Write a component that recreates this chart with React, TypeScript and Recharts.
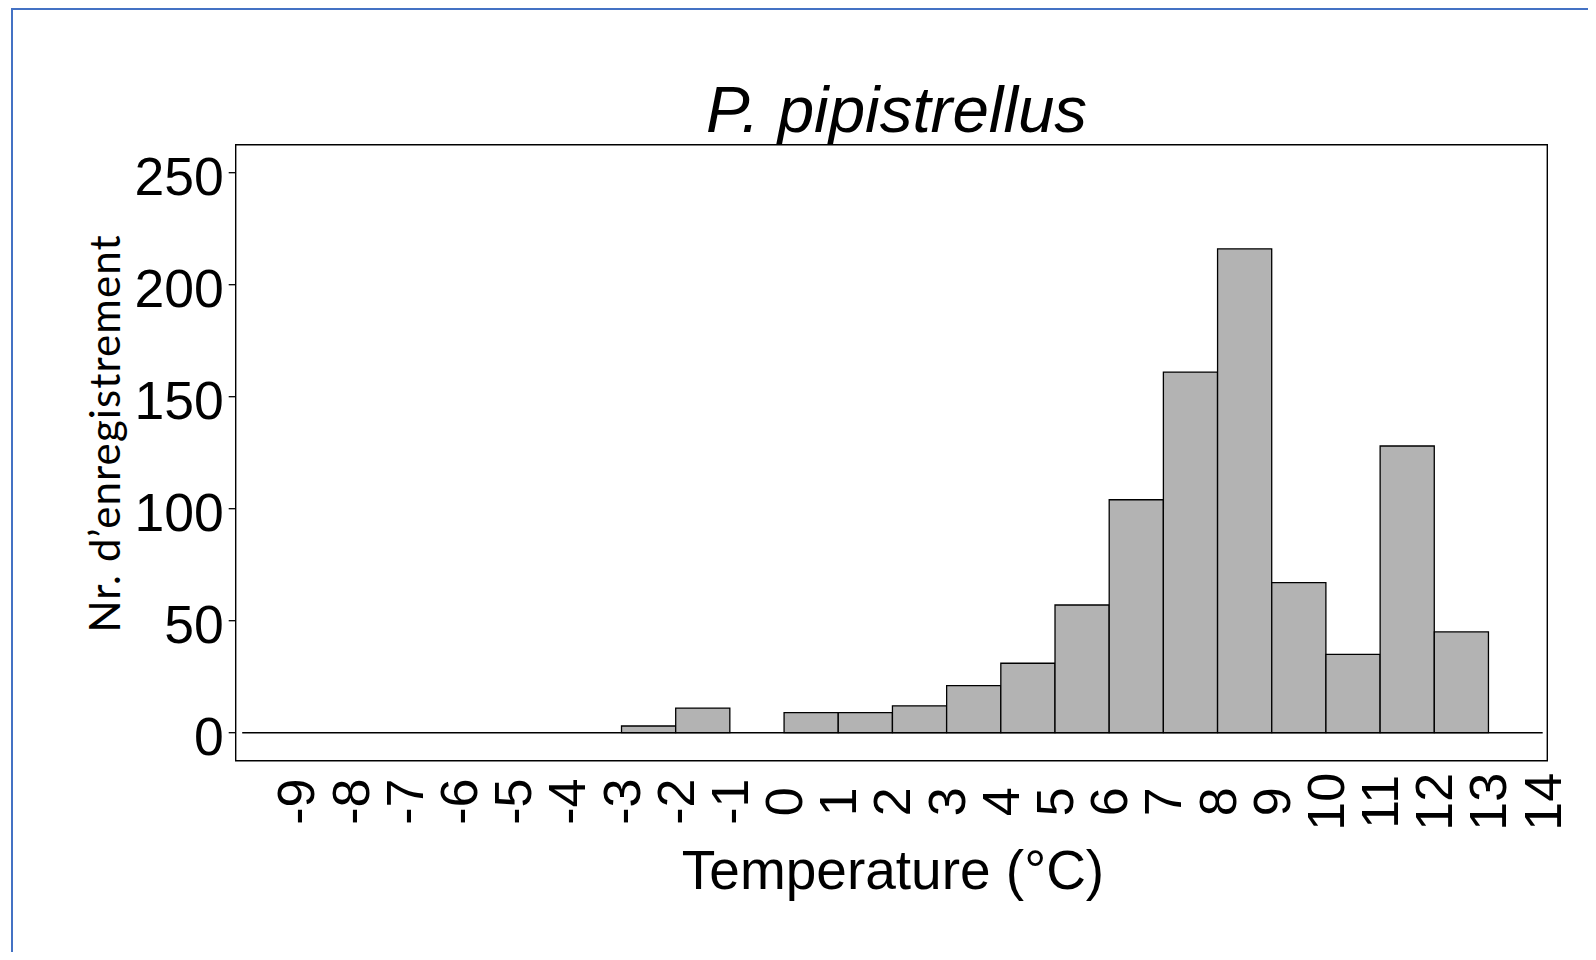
import { BarChart, Bar, XAxis, YAxis, ReferenceLine, ReferenceArea } from 'recharts';

// histogram bins: lower edge (°C) and count
const BIN_START = [-10, -9, -8, -7, -6, -5, -4, -3, -2, -1, 0, 1, 2, 3, 4, 5, 6, 7, 8, 9, 10, 11, 12, 13];
const COUNTS = [0, 0, 0, 0, 0, 0, 0, 3, 11, 0, 9, 9, 12, 21, 31, 57, 104, 161, 216, 67, 35, 128, 45, 0];
const X_TICKS = [-9, -8, -7, -6, -5, -4, -3, -2, -1, 0, 1, 2, 3, 4, 5, 6, 7, 8, 9, 10, 11, 12, 13, 14];
const Y_TICKS = [0, 50, 100, 150, 200, 250];

const X_DOMAIN: [number, number] = [-10.12, 14.085];
const Y_DOMAIN: [number, number] = [-12.5, 262.5];

const data = BIN_START.map((s, i) => ({ mid: s + 0.5, count: COUNTS[i] }));

const W = 1596;
const H = 960;
const PLOT_LEFT = 235.7;
const PLOT_RIGHT = 1547.3;
const PLOT_TOP = 144.7;
const PLOT_BOTTOM = 760.7;
// one bin wide, a hair under the band so recharts doesn't shrink it
const BAR_PX = (PLOT_RIGHT - PLOT_LEFT) / (X_DOMAIN[1] - X_DOMAIN[0]) - 0.05;

const ARIAL = '"Liberation Sans", Arial, sans-serif';

function XTick(props: any) {
  const { x, y, payload } = props;
  const cy = y + 41;
  return (
    <text
      x={x}
      y={cy}
      transform={`rotate(-90, ${x}, ${cy})`}
      textAnchor="middle"
      dominantBaseline="central"
      fontFamily={ARIAL}
      fontSize={52}
      fill="#000"
    >
      {payload.value}
    </text>
  );
}

function YTick(props: any) {
  const { x, y, payload } = props;
  return (
    <text x={x} y={y} dy={4} textAnchor="end" dominantBaseline="central" fontFamily={ARIAL} fontSize={53.5} fill="#000">
      {payload.value}
    </text>
  );
}

export default function App() {
  return (
    <div style={{ position: 'relative', width: W, height: H, margin: -8, overflow: 'hidden', background: '#fff' }}>
      <div
        style={{
          position: 'absolute',
          left: 11,
          top: 8,
          width: W + 40,
          height: H + 40,
          border: '2px solid #4472C4',
          boxSizing: 'border-box',
        }}
      />
      <div style={{ position: 'absolute', left: 0, top: 0 }}>
        <BarChart
          width={W}
          height={H}
          data={data}
          margin={{ top: PLOT_TOP, right: W - PLOT_RIGHT, bottom: 0, left: 0 }}
          barCategoryGap={0}
          barGap={0}
        >
          <XAxis
            type="number"
            dataKey="mid"
            domain={X_DOMAIN}
            ticks={X_TICKS}
            interval={0}
            allowDataOverflow
            axisLine={false}
            tickLine={false}
            tickSize={0}
            tickMargin={0}
            height={H - PLOT_BOTTOM}
            tick={<XTick />}
          />
          <YAxis
            type="number"
            domain={Y_DOMAIN}
            ticks={Y_TICKS}
            interval={0}
            allowDataOverflow
            axisLine={false}
            tickLine={{ stroke: '#000', strokeWidth: 1.3 }}
            tickSize={7}
            tickMargin={5}
            width={PLOT_LEFT}
            tick={<YTick />}
          />
          <ReferenceArea
            x1={X_DOMAIN[0]}
            x2={X_DOMAIN[1]}
            y1={Y_DOMAIN[0]}
            y2={Y_DOMAIN[1]}
            fill="none"
            stroke="#000"
            strokeWidth={1.4}
            ifOverflow="visible"
          />
          <ReferenceLine
            segment={[
              { x: BIN_START[0], y: 0 },
              { x: BIN_START[BIN_START.length - 1] + 1, y: 0 },
            ]}
            stroke="#000"
            strokeWidth={1.6}
            ifOverflow="visible"
          />
          <Bar dataKey="count" fill="#B3B3B3" stroke="#000" strokeWidth={1.3} barSize={BAR_PX} isAnimationActive={false} />
        </BarChart>
      </div>
      <svg width={W} height={H} style={{ position: 'absolute', left: 0, top: 0, pointerEvents: 'none' }}>
        <text x={896.6} y={131.7} textAnchor="middle" fontFamily={ARIAL} fontStyle="italic" fontSize={65.5} fill="#000">
          P. pipistrellus
        </text>
        <text x={893} y={888.5} textAnchor="middle" fontFamily={ARIAL} fontSize={55} fill="#000">
          Temperature (°C)
        </text>
        <text
          x={120}
          y={434}
          transform="rotate(-90, 120, 434)"
          textAnchor="middle"
          fontFamily="Lato, sans-serif"
          fontSize={42}
          textLength={397}
          lengthAdjust="spacing"
          fill="#000"
        >
          Nr. d’enregistrement
        </text>
      </svg>
    </div>
  );
}
